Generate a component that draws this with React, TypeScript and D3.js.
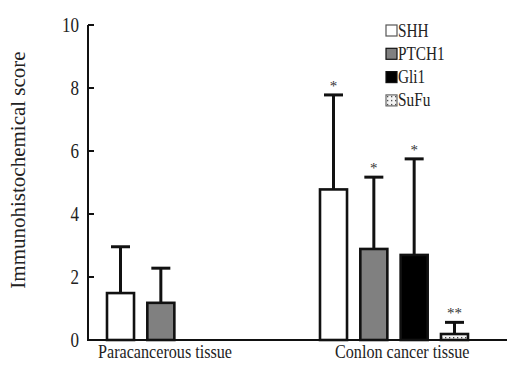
import React, { useEffect, useRef } from 'react';
import * as d3 from 'd3';

// chart data
const groups = ['Paracancerous tissue', 'Conlon cancer tissue'];
const series = ['SHH', 'PTCH1', 'Gli1', 'SuFu'];
const paraMeans = [1.49, 1.18, null, null];
const paraErrors = [1.47, 1.1, null, null];
const cancerMeans = [4.78, 2.89, 2.7, 0.19];
const cancerErrors = [3.0, 2.28, 3.05, 0.37];
const cancerMarks = ['*', '*', '*', '**'];
const yTicks = [0, 2, 4, 6, 8, 10];

const fills = ['#ffffff', '#808080', '#000000', 'url(#sufu)'];
const labelShift = [-9, 15]; // where the group labels start, relative to the group
const sx = 0.85; // text in the source is a bit squeezed horizontally

const App = () => {
  const ref = useRef<SVGSVGElement | null>(null);

  useEffect(() => {
    const width = 510;
    const height = 365;
    const svg = d3.select(ref.current);
    svg.selectAll('*').remove();
    svg.attr('width', width).attr('height', height);

    const font = '"Liberation Serif", "Times New Roman", serif';
    const ink = '#111';

    const defs = svg.append('defs');
    const pat = defs.append('pattern')
      .attr('id', 'sufu')
      .attr('patternUnits', 'userSpaceOnUse')
      .attr('width', 4).attr('height', 4);
    pat.append('rect').attr('width', 4).attr('height', 4).attr('fill', '#f4f4f4');
    pat.append('rect').attr('x', 1).attr('y', 1).attr('width', 1.3).attr('height', 1.3).attr('fill', '#444');

    const y = d3.scaleLinear().domain([0, 10]).range([340, 25]);
    const x0 = d3.scaleBand().domain(groups).range([107, 533]);
    const x1 = d3.scaleBand().domain(series).range([0, 148]).paddingInner(0.33);

    const rows = [
      { group: groups[0], means: paraMeans, errors: paraErrors, marks: ['', '', '', ''] },
      { group: groups[1], means: cancerMeans, errors: cancerErrors, marks: cancerMarks },
    ];

    const data: any[] = [];
    rows.forEach((r) => {
      series.forEach((s, i) => {
        if (r.means[i] == null) return;
        data.push({ group: r.group, key: s, i, mean: r.means[i], err: r.errors[i], mark: r.marks[i] });
      });
    });

    const bx = (d: any) => (x0(d.group) as number) + (x1(d.key) as number);
    const bw = x1.bandwidth();

    // bars
    svg.append('g')
      .selectAll('rect')
      .data(data)
      .enter()
      .append('rect')
      .attr('x', bx)
      .attr('y', (d) => y(d.mean))
      .attr('width', bw)
      .attr('height', (d) => y(0) - y(d.mean))
      .attr('fill', (d) => fills[d.i])
      .attr('stroke', ink)
      .attr('stroke-width', 2.6);

    // error bars (upper only)
    const eb = svg.append('g').attr('stroke', ink).attr('stroke-width', 3);
    data.forEach((d) => {
      const cx = bx(d) + bw / 2;
      const top = y(d.mean + d.err);
      eb.append('line').attr('x1', cx).attr('x2', cx).attr('y1', y(d.mean)).attr('y2', top);
      eb.append('line').attr('x1', cx - 9.5).attr('x2', cx + 9.5).attr('y1', top).attr('y2', top);
    });

    // significance marks
    svg.append('g')
      .selectAll('text')
      .data(data.filter((d) => d.mark))
      .enter()
      .append('text')
      .attr('x', (d) => bx(d) + bw / 2)
      .attr('y', (d) => y(d.mean + d.err) - 4)
      .attr('text-anchor', 'middle')
      .attr('font-family', font)
      .attr('font-size', 15)
      .attr('fill', '#333')
      .text((d) => d.mark);

    // y axis
    const yAxis = svg.append('g').attr('transform', 'translate(88,0)');
    yAxis.append('line').attr('x1', 0).attr('x2', 0).attr('y1', y(10)).attr('y2', y(0))
      .attr('stroke', ink).attr('stroke-width', 2);
    yTicks.forEach((t) => {
      yAxis.append('line').attr('x1', 0).attr('x2', 6).attr('y1', y(t)).attr('y2', y(t))
        .attr('stroke', ink).attr('stroke-width', 2);
      yAxis.append('text')
        .attr('transform', `translate(-9,${y(t) + 7}) scale(${sx},1)`)
        .attr('text-anchor', 'end')
        .attr('font-family', font)
        .attr('font-size', 20)
        .attr('fill', '#222')
        .text(t);
    });

    // x axis
    svg.append('line').attr('x1', 87).attr('x2', 507).attr('y1', y(0)).attr('y2', y(0))
      .attr('stroke', ink).attr('stroke-width', 2);

    groups.forEach((g, i) => {
      svg.append('text')
        .attr('transform', `translate(${(x0(g) as number) + labelShift[i]},358) scale(${sx},1)`)
        .attr('font-family', font)
        .attr('font-size', 19)
        .attr('fill', '#222')
        .text(g);
    });

    // y title
    svg.append('text')
      .attr('transform', 'translate(25,170) rotate(-90)')
      .attr('text-anchor', 'middle')
      .attr('font-family', font)
      .attr('font-size', 21)
      .attr('fill', '#222')
      .text('Immunohistochemical score');

    // legend
    const legend = svg.append('g').attr('transform', 'translate(386,25)');
    series.forEach((s, i) => {
      const row = legend.append('g').attr('transform', `translate(0,${i * 23.3})`);
      row.append('rect').attr('x', 0).attr('y', 0).attr('width', 11).attr('height', 11)
        .attr('fill', fills[i]).attr('stroke', i === 0 ? '#555' : i === 3 ? '#666' : ink)
        .attr('stroke-width', 1.2);
      row.append('text')
        .attr('transform', `translate(12,11.5) scale(${sx},1)`)
        .attr('font-family', font)
        .attr('font-size', 18)
        .attr('fill', '#222')
        .text(s);
    });
  }, []);

  return (
    <svg ref={ref} style={{ position: 'absolute', left: 0, top: 0, background: '#fff' }} />
  );
};

export default App;
